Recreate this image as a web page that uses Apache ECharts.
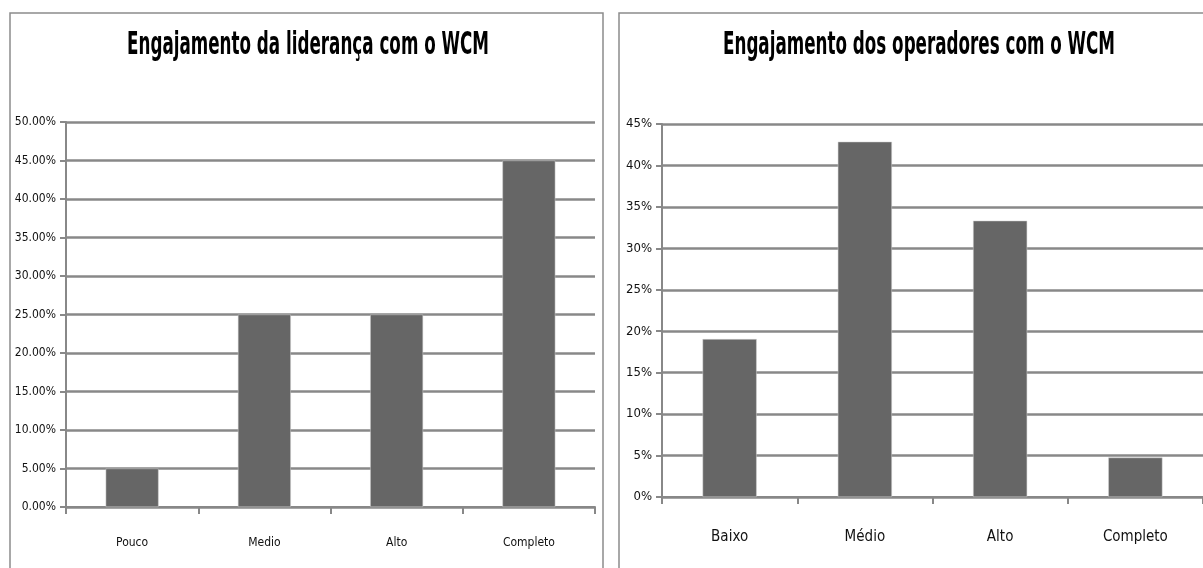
<!DOCTYPE html>
<html>
<head>
<meta charset="utf-8">
<script src="https://cdn.jsdelivr.net/npm/echarts@6/dist/echarts.min.js"></script>
<style>
  html, body { margin: 0; padding: 0; background: #ffffff; }
  #chart { width: 1203px; height: 568px; }
</style>
</head>
<body>
<div id="chart"></div>
<script>
// Leadership engagement (percent)
const leaderTitle = 'Engajamento da liderança com o WCM';
const leaderCategories = ['Pouco', 'Medio', 'Alto', 'Completo'];
const leaderValues = [5, 25, 25, 45];

// Operator engagement (percent)
const operatorTitle = 'Engajamento dos operadores com o WCM';
const operatorCategories = ['Baixo', 'Médio', 'Alto', 'Completo'];
const operatorValues = [19.05, 42.86, 33.33, 4.76];

const FONT = '"DejaVu Sans Condensed", "Liberation Sans Narrow", sans-serif';
const TITLE_FONT = 'bold 32px ' + FONT;
const GRID_GRAY = '#888888';
const BAR_GRAY = '#666666';

// Horizontal squeeze factor so a bold title spans the given width (narrow headline look)
function squeezeFor(text, width) {
  const ctx = document.createElement('canvas').getContext('2d');
  ctx.font = TITLE_FONT;
  return width / ctx.measureText(text).width;
}

function titleText(text, cx, cy, width) {
  return {
    type: 'text', x: cx, y: cy, silent: true,
    scaleX: squeezeFor(text, width), scaleY: 1,
    style: { text: text, font: TITLE_FONT, fill: '#000', align: 'center', verticalAlign: 'middle' }
  };
}

function valueAxis(gridIndex, max, fmt, fontSize) {
  return {
    type: 'value',
    gridIndex: gridIndex,
    min: 0,
    max: max,
    interval: 5,
    axisLine: { show: true, lineStyle: { color: GRID_GRAY, width: 2 } },
    axisTick: { show: true, length: 6, lineStyle: { color: GRID_GRAY, width: 2 } },
    splitLine: { show: true, lineStyle: { color: GRID_GRAY, width: 2.5 } },
    axisLabel: { formatter: fmt, color: '#111', fontFamily: FONT, fontSize: fontSize, margin: 10 }
  };
}

function categoryAxis(gridIndex, data, fontSize, margin) {
  return {
    type: 'category',
    gridIndex: gridIndex,
    data: data,
    boundaryGap: true,
    axisLine: { show: true, lineStyle: { color: GRID_GRAY, width: 2 } },
    axisTick: { show: true, alignWithLabel: false, length: 7, lineStyle: { color: GRID_GRAY, width: 2 } },
    axisLabel: { color: '#111', fontFamily: FONT, fontSize: fontSize, margin: margin }
  };
}

const chart = echarts.init(document.getElementById('chart'));
chart.setOption({
  animation: false,
  backgroundColor: '#ffffff',
  graphic: [
    { type: 'rect', shape: { x: 10, y: 13, width: 593, height: 600 }, silent: true,
      style: { fill: 'none', stroke: '#8c8c8c', lineWidth: 1.5 } },
    { type: 'rect', shape: { x: 619, y: 13, width: 600, height: 600 }, silent: true,
      style: { fill: 'none', stroke: '#8c8c8c', lineWidth: 1.5 } },
    titleText(leaderTitle, 308, 46, 362),
    titleText(operatorTitle, 919, 46, 392)
  ],
  grid: [
    { left: 66, right: 608, top: 122, bottom: 61 },
    { left: 662, right: 0, top: 124, bottom: 71 }
  ],
  xAxis: [
    categoryAxis(0, leaderCategories, 12, 30),
    categoryAxis(1, operatorCategories, 15, 33)
  ],
  yAxis: [
    valueAxis(0, 50, v => v.toFixed(2) + '%', 12),
    valueAxis(1, 45, v => v + '%', 13)
  ],
  series: [
    { type: 'bar', xAxisIndex: 0, yAxisIndex: 0, data: leaderValues, barWidth: '40%',
      itemStyle: { color: BAR_GRAY, borderColor: '#d0d0d0', borderWidth: 0.5 } },
    { type: 'bar', xAxisIndex: 1, yAxisIndex: 1, data: operatorValues, barWidth: '40%',
      itemStyle: { color: BAR_GRAY, borderColor: '#d0d0d0', borderWidth: 0.5 } }
  ]
});
</script>
</body>
</html>
